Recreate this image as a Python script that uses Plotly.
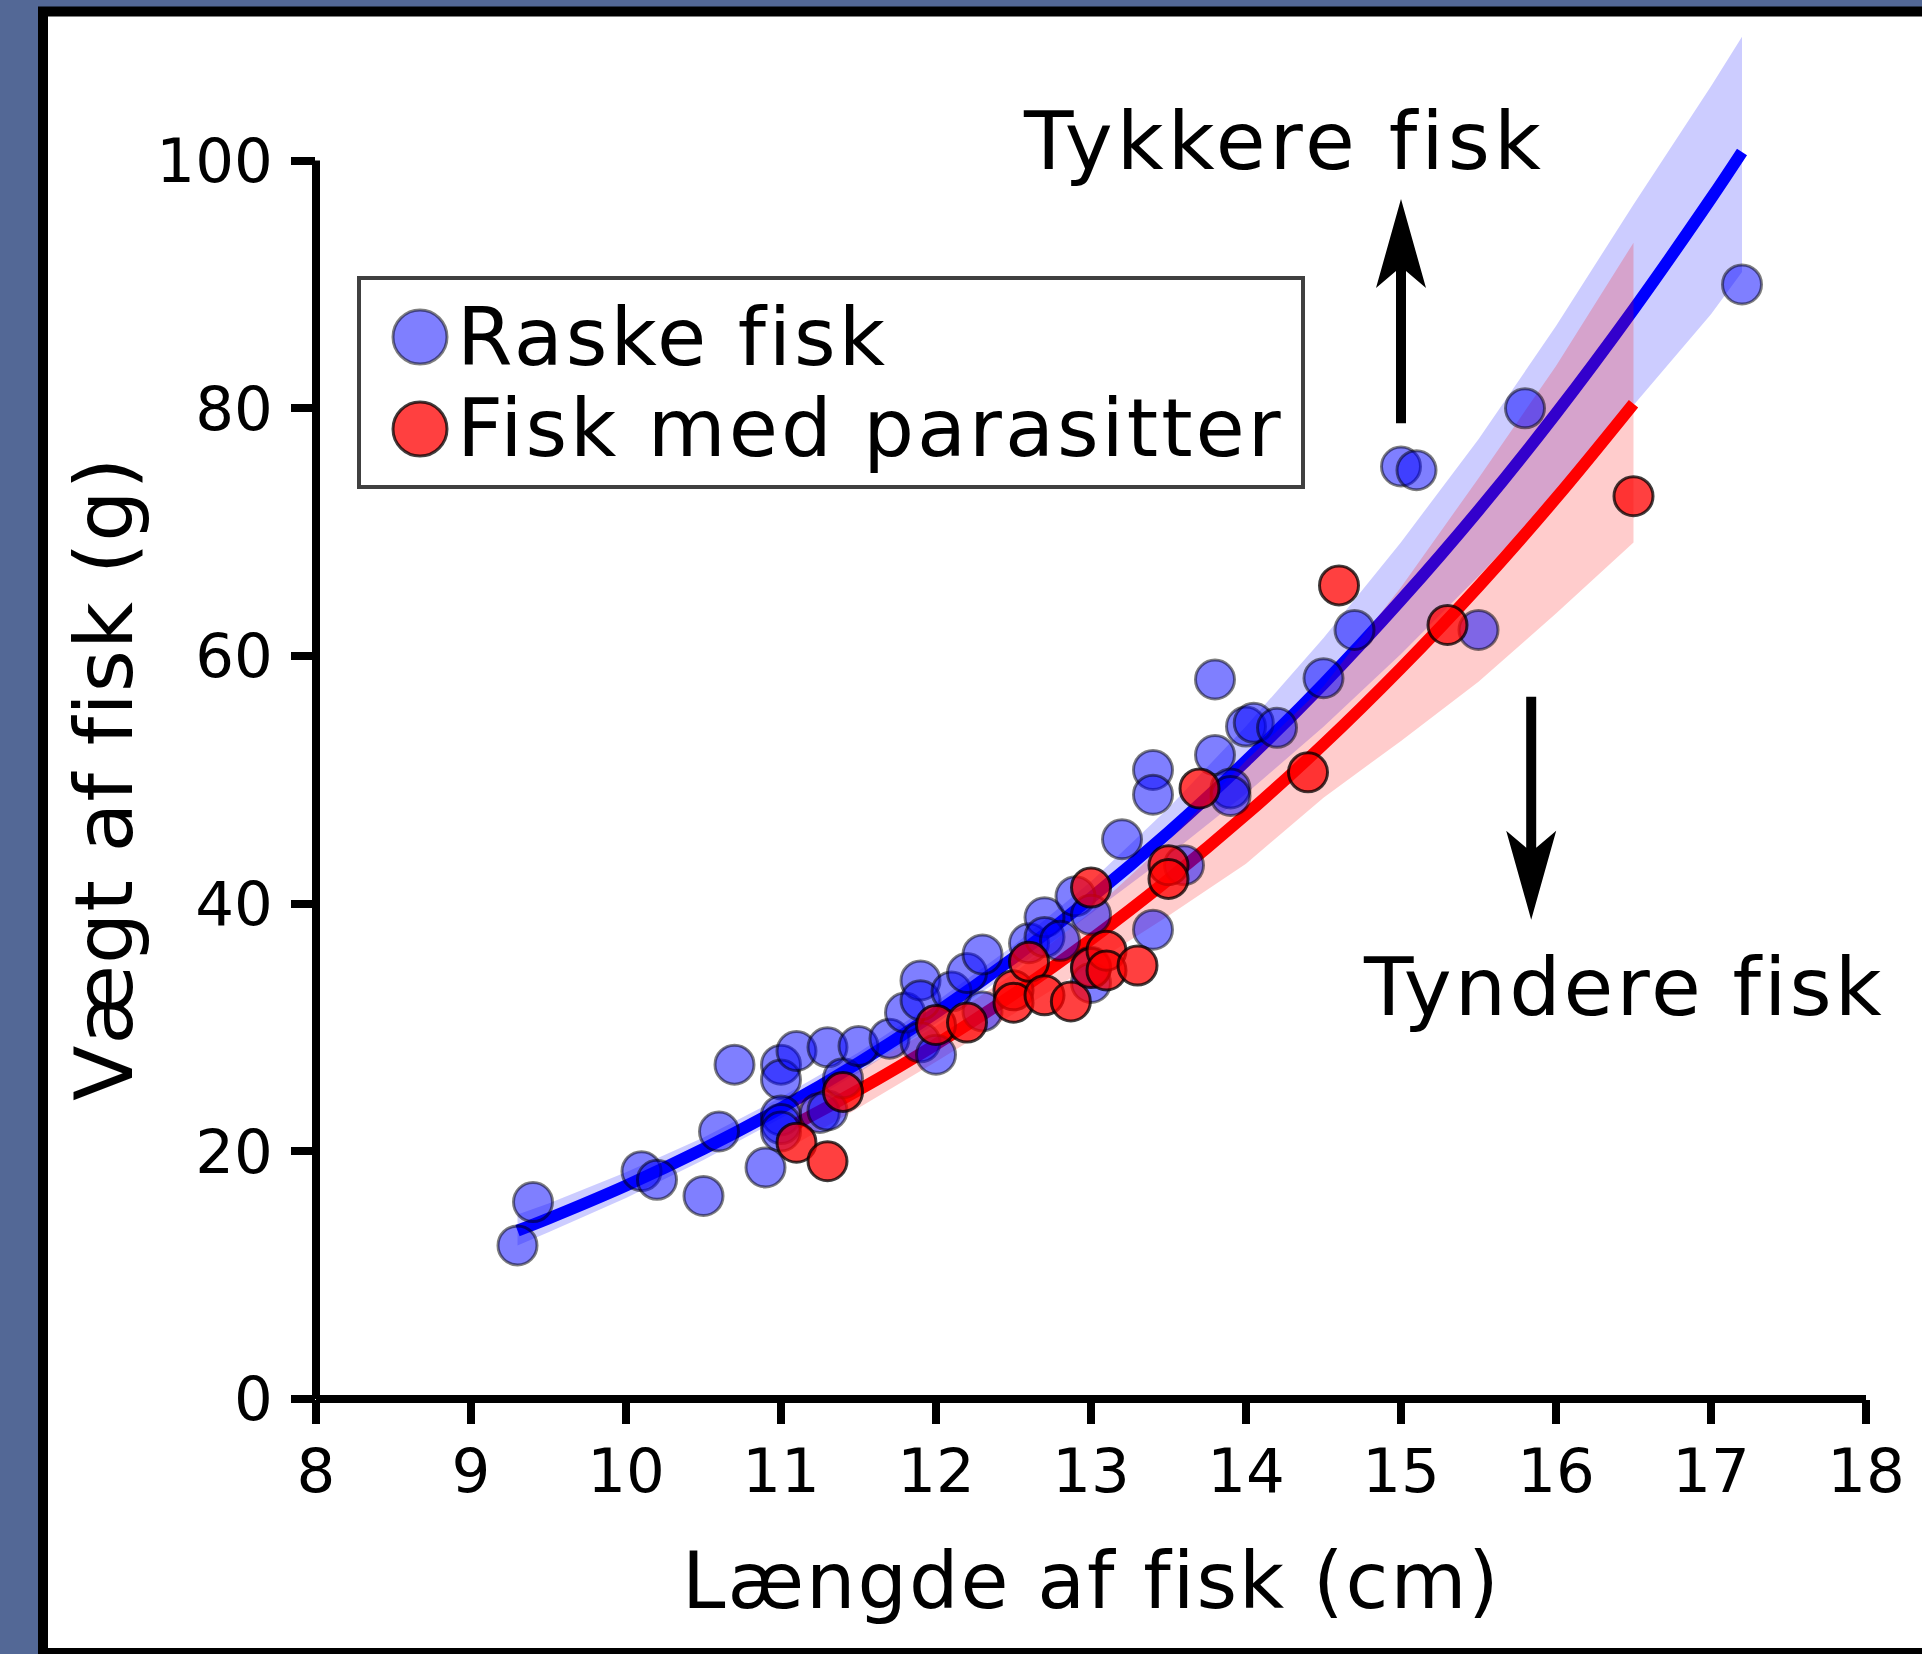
import plotly.graph_objects as go

# ---------------- data ----------------
blue_x = [9.3, 9.4, 10.1, 10.2, 10.5, 10.6, 10.7, 10.9, 11.0, 11.0, 11.1, 11.0, 11.0, 11.0,
          11.25, 11.3, 11.3, 11.4, 11.5, 11.7, 11.8, 11.9, 11.9, 11.9, 12.0, 12.1, 12.2, 12.3,
          12.3, 12.6, 12.7, 12.7, 12.8, 12.9, 13.0, 13.0, 13.0, 13.4, 13.2, 13.4, 13.4, 13.6,
          13.8, 13.9, 13.9, 13.8, 14.0, 14.05, 14.2, 14.5, 14.7, 15.0, 15.1, 15.5, 15.8, 17.2]
blue_y = [12.4, 15.9, 18.4, 17.7, 16.4, 21.6, 27.0, 18.7, 27.0, 25.8, 28.1, 22.9, 22.2, 21.6,
          23.1, 23.3, 28.4, 25.9, 28.5, 29.1, 31.2, 33.8, 32.2, 28.8, 27.8, 32.9, 34.4, 35.9,
          31.3, 36.8, 38.9, 37.3, 37.0, 40.6, 39.1, 34.9, 33.6, 37.9, 45.2, 50.8, 48.8, 43.1,
          52.0, 49.3, 48.7, 58.1, 54.3, 54.6, 54.2, 58.2, 62.1, 75.3, 75.0, 62.1, 80.0, 90.0]

red_x = [11.1, 11.3, 11.4, 12.0, 12.2, 12.5, 12.5, 12.6, 12.7, 12.87, 13.0, 13.0, 13.1, 13.1,
         13.3, 13.5, 13.5, 13.7, 14.4, 14.6, 15.3, 16.5]
red_y = [20.7, 19.2, 24.8, 30.2, 30.4, 33.0, 32.0, 35.3, 32.6, 32.1, 41.3, 34.8, 36.2, 34.6,
         35.0, 43.1, 42.0, 49.3, 50.6, 65.7, 62.5, 72.9]

blue_fit_x = [9.3, 9.5, 10, 10.5, 11, 11.5, 12, 12.5, 13, 13.5, 14, 14.5, 15, 15.5, 16, 16.5, 17, 17.2]
blue_fit_y = [13.6, 14.58, 17.23, 20.19, 23.49, 27.15, 31.19, 35.62, 40.47, 45.77, 51.53, 57.75,
              64.51, 71.76, 79.58, 87.98, 96.94, 100.7]
blue_lo = [12.4, 13.46, 16.23, 19.30, 22.67, 26.34, 30.32, 34.62, 39.20, 43.89, 48.87, 54.28,
           60.15, 66.44, 73.09, 80.25, 87.6, 91.0]
blue_hi = [14.9, 15.79, 18.30, 21.12, 24.36, 27.97, 32.07, 36.62, 41.79, 47.73, 54.33, 61.45,
           69.19, 77.50, 86.64, 96.46, 106.0, 110.0]

red_fit_x = [11.1, 11.5, 12, 12.5, 13, 13.5, 14, 14.5, 15, 15.5, 16, 16.5]
red_fit_y = [22.24, 24.95, 28.64, 32.68, 37.11, 41.95, 47.19, 52.87, 59.02, 65.62, 72.74, 80.37]
red_lo = [20.63, 23.50, 27.24, 31.09, 35.02, 39.03, 43.22, 48.56, 53.14, 57.91, 63.43, 69.17]
red_hi = [23.97, 26.49, 30.11, 34.36, 39.33, 45.08, 51.53, 57.56, 65.55, 74.35, 83.42, 93.37]

x_ticks = [8, 9, 10, 11, 12, 13, 14, 15, 16, 17, 18]
y_ticks = [0, 20, 40, 60, 80, 100]

series_names = ["Raske fisk", "Fisk med parasitter"]
x_title = "Længde af fisk (cm)"
y_title = "Vægt af fisk (g)"
up_text = "Tykkere fisk"
down_text = "Tyndere fisk"

# arrows: (x, tail y, tip y) in data units
up_arrow = (15.0, 78.8, 96.9)
down_arrow = (15.84, 56.7, 38.7)

# ---------------- layout constants ----------------
W, H = 1922, 1654
ML, MR, MT, MB = 316, 56, 12, 255
Y_MAX = 112
PW, PH = W - ML - MR, H - MT - MB
FONT = "DejaVu Sans"
BG = "#536896"


def px(x):
    return (x - ML) / PW


def py(y):
    return (H - MB - y) / PH


def spaced(text, ls):
    return f'<span style="letter-spacing:{ls}px">{text}</span>'


fig = go.Figure()

# blue band + line
fig.add_trace(go.Scatter(x=blue_fit_x + blue_fit_x[::-1], y=blue_hi + blue_lo[::-1],
                         fill="toself", fillcolor="rgba(0,0,255,0.2)", line=dict(width=0),
                         mode="lines", hoverinfo="skip", showlegend=False))
fig.add_trace(go.Scatter(x=blue_fit_x, y=blue_fit_y, mode="lines",
                         line=dict(color="#0000ff", width=12, shape="spline"), showlegend=False))
# red band + line
fig.add_trace(go.Scatter(x=red_fit_x + red_fit_x[::-1], y=red_hi + red_lo[::-1],
                         fill="toself", fillcolor="rgba(255,0,0,0.2)", line=dict(width=0),
                         mode="lines", hoverinfo="skip", showlegend=False))
fig.add_trace(go.Scatter(x=red_fit_x, y=red_fit_y, mode="lines",
                         line=dict(color="#ff0000", width=12, shape="spline"), showlegend=False))
# markers
fig.add_trace(go.Scatter(x=blue_x, y=blue_y, mode="markers", name=series_names[0],
                         marker=dict(size=39, color="rgba(0,0,255,0.5)",
                                     line=dict(color="rgba(0,0,0,0.5)", width=3)),
                         showlegend=False, cliponaxis=False))
fig.add_trace(go.Scatter(x=red_x, y=red_y, mode="markers", name=series_names[1],
                         marker=dict(size=39, color="rgba(255,0,0,0.75)",
                                     line=dict(color="rgba(0,0,0,0.75)", width=3)),
                         showlegend=False, cliponaxis=False))

shapes = []
# white panel with black frame
shapes.append(dict(type="rect", xref="paper", yref="paper", layer="below",
                   x0=px(43), x1=px(1945), y0=py(1653), y1=py(11.5),
                   fillcolor="white", line=dict(color="black", width=10)))
# spines trimmed to tick range
shapes.append(dict(type="line", xref="paper", yref="paper", layer="above",
                   x0=0, x1=0, y0=y_ticks[0] / Y_MAX, y1=y_ticks[-1] / Y_MAX,
                   line=dict(color="black", width=8)))
shapes.append(dict(type="line", xref="paper", yref="paper", layer="above",
                   x0=(x_ticks[0] - 8) / 10, x1=(x_ticks[-1] - 8) / 10, y0=0, y1=0,
                   line=dict(color="black", width=8)))

# arrows as pixel-sized paths anchored at the tip
HW, HL, NL, SW = 25, 89, 72, 5
for (ax, tail, tip), sgn in [(up_arrow, 1), (down_arrow, -1)]:
    L = abs(tip - tail) * PH / Y_MAX
    s = sgn
    path = (f"M0,0 L{HW},{-s*HL} L{SW},{-s*NL} L{SW},{-s*L} L{-SW},{-s*L} "
            f"L{-SW},{-s*NL} L{-HW},{-s*HL} Z")
    shapes.append(dict(type="path", xref="x", yref="y", xsizemode="pixel", ysizemode="pixel",
                       xanchor=ax, yanchor=tip, path=path, fillcolor="black",
                       line=dict(width=0), layer="above"))

# legend box
shapes.append(dict(type="rect", xref="paper", yref="paper", layer="above",
                   x0=px(359), x1=px(1303), y0=py(487), y1=py(278),
                   fillcolor="white", line=dict(color="#404040", width=4)))
legend_marks = [(337, "rgba(0,0,255,0.5)", "rgba(0,0,0,0.5)"),
                (429, "rgba(255,0,0,0.75)", "rgba(0,0,0,0.75)")]
R = 27
for yy, fc, lc in legend_marks:
    shapes.append(dict(type="circle", xref="paper", yref="paper", xsizemode="pixel",
                       ysizemode="pixel", xanchor=px(420), yanchor=py(yy),
                       x0=-R, x1=R, y0=-R, y1=R, fillcolor=fc,
                       line=dict(color=lc, width=3), layer="above"))

annotations = [
    dict(text=spaced(series_names[0], 3), x=px(455), y=py(337), xanchor="left", yanchor="middle",
         font=dict(size=80)),
    dict(text=spaced(series_names[1], 3), x=px(455), y=py(428), xanchor="left", yanchor="middle",
         font=dict(size=80)),
    dict(text=spaced(up_text, 4), x=px(1284), y=py(141), xanchor="center", yanchor="middle",
         font=dict(size=81)),
    dict(text=spaced(down_text, 3), x=px(1624), y=py(987), xanchor="center", yanchor="middle",
         font=dict(size=81)),
    dict(text=spaced(x_title, 2), x=0.5, y=py(1581), xanchor="center", yanchor="middle",
         font=dict(size=78)),
    dict(text=spaced(y_title, 1), x=px(104), y=py(779), xanchor="center", yanchor="middle",
         textangle=-90, font=dict(size=81)),
]
for a in annotations:
    a.update(xref="paper", yref="paper", showarrow=False)
    a["font"].update(family=FONT, color="black")

axis_common = dict(showgrid=False, zeroline=False, showline=False, ticks="outside",
                   ticklen=24, tickwidth=8, tickcolor="black",
                   tickfont=dict(family=FONT, size=61, color="black"))

fig.update_layout(
    width=W, height=H,
    margin=dict(l=ML, r=MR, t=MT, b=MB, autoexpand=False),
    paper_bgcolor=BG, plot_bgcolor="rgba(0,0,0,0)",
    xaxis=dict(range=[8, 18], tickvals=x_ticks, ticktext=[str(v) for v in x_ticks],
               ticklabelstandoff=-5, **axis_common),
    yaxis=dict(range=[0, Y_MAX], tickvals=y_ticks, ticktext=[str(v) for v in y_ticks],
               ticklabelstandoff=6, **axis_common),
    shapes=shapes, annotations=annotations, showlegend=False,
    font=dict(family=FONT),
)

fig.write_html(
    "out.html",
    config={"displayModeBar": False},
    post_script=f"document.body.style.margin='0px';document.body.style.background='{BG}';",
)
